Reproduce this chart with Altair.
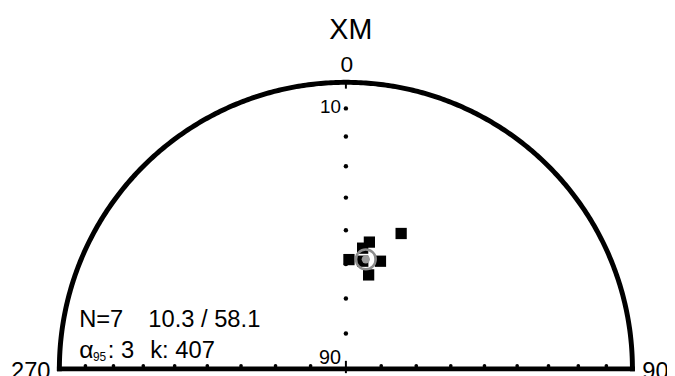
import altair as alt
import pandas as pd

# ---- data (declination / inclination, degrees) ----
site_dec = [22.2, 10.5, 7.9, 1.6, 17.8, 13.6, 8.9]
site_inc = [47.7, 52.9, 55.0, 58.7, 57.6, 62.4, 58.8]
mean_dec = [10.3]
mean_inc = [58.1]
tick_inc = [10, 20, 30, 40, 50, 60, 70, 80]
axis_dec = [0, 90, 270]
title_text = "XM"
stat_n = "N=7"
stat_mean = "10.3 / 58.1"
stat_a95 = ": 3"
stat_k = "k: 407"

FONT = "Liberation Sans"
W, H = 667, 368
CX, CY, R = 342, 363, 290
xs = alt.Scale(domain=[-CX / R, (W - CX) / R], nice=False, zero=False)
ys = alt.Scale(domain=[-(H - CY) / R, CY / R], nice=False, zero=False)


def proj(ch):
    return ch.transform_calculate(
        r="sqrt(2)*sin((90-datum.inc)*PI/360)"
    ).transform_calculate(
        u="datum.r*sin(datum.dec*PI/180)", v="datum.r*cos(datum.dec*PI/180)"
    )


X = alt.X("u:Q", scale=xs, axis=None)
Y = alt.Y("v:Q", scale=ys, axis=None)

# primitive circle (upper half) and E-W diameter
outline = alt.Chart(alt.sequence(-90, 90.25, 0.5, as_="d")).transform_calculate(
    u="sin(datum.d*PI/180)", v="cos(datum.d*PI/180)"
).mark_line(color="black", strokeWidth=5, strokeCap="square").encode(
    x=X, y=Y, order="d:Q"
)
diam = alt.Chart(pd.DataFrame({"u": [-1.0], "u2": [1.0], "v": [0.0]})).mark_rule(
    color="black", strokeWidth=5, strokeCap="square"
).encode(x=X, x2="u2:Q", y=Y)

# inclination ticks on the N axis and on the E-W axis
tick_df = pd.DataFrame([(d, i) for d in axis_dec for i in tick_inc], columns=["dec", "inc"])
ticks_n = proj(alt.Chart(tick_df[tick_df.dec == 0])).mark_point(
    shape="circle", filled=True, color="black", size=20, opacity=1
).encode(x=X, y=Y)
ticks_ew = proj(alt.Chart(tick_df[tick_df.dec != 0])).mark_point(
    shape="circle", filled=True, color="black", size=14, opacity=1, yOffset=-3
).encode(x=X, y=Y)

centre = alt.Chart(pd.DataFrame({"u": [0.0], "v": [0.0]})).mark_rule(
    color="black", strokeWidth=2
).encode(x=X, y=alt.Y("v:Q", scale=ys, axis=None), y2=alt.datum(0.028))
centre_lo = alt.Chart(pd.DataFrame({"u": [0.0], "v": [-0.015]})).mark_rule(
    color="black", strokeWidth=2
).encode(x=X, y=Y, y2=alt.datum(0.0))
top_tick = alt.Chart(pd.DataFrame({"u": [0.0], "v": [1.0]})).mark_rule(
    color="black", strokeWidth=2
).encode(x=X, y=Y, y2=alt.datum(0.978))

sites = proj(alt.Chart(pd.DataFrame({"dec": site_dec, "inc": site_inc}))).mark_point(
    shape="square", filled=True, color="black", size=130, opacity=1
).encode(x=X, y=Y)

mean_df = pd.DataFrame({"dec": mean_dec, "inc": mean_inc})
mean_ring = proj(alt.Chart(mean_df)).mark_point(
    shape="circle", filled=False, color="#8c8c8c", strokeWidth=2.5, size=400, opacity=1
).encode(x=X, y=Y)
mean_dot = proj(alt.Chart(mean_df)).mark_point(
    shape="circle", filled=True, color="#9a9a9a", size=70, opacity=1
).encode(x=X, y=Y)


def label(text, x, y, size, align="left"):
    return alt.Chart(pd.DataFrame({"t": [text]})).mark_text(
        font=FONT, fontSize=size, align=align, baseline="alphabetic", color="black"
    ).encode(x=alt.value(x), y=alt.value(y), text="t:N")


labels = [
    label(title_text, 347, 29, 29, "center"),
    label("0", 343, 63, 23, "center"),
    label("10", 337, 104, 19, "right"),
    label("90", 337, 358, 20, "right"),
    label("270", 3, 373, 24),
    label("90", 642, 373, 24),
    label(stat_n, 72, 321, 24),
    label(stat_mean, 142, 321, 24),
    label("\u03b1", 72, 352, 25),
    label("95", 86, 355, 12),
    label(stat_a95, 101, 352, 24),
    label(stat_k, 144, 352, 24),
]

chart = alt.layer(
    outline, diam, ticks_n, ticks_ew, centre, centre_lo, top_tick,
    sites, mean_ring, mean_dot, *labels
).properties(
    width=W, height=H, padding=0, autosize=alt.AutoSizeParams(type="none"),
    background="white"
).configure_view(stroke=None)

chart.save("out.html", embed_options={"renderer": "svg", "actions": False})
